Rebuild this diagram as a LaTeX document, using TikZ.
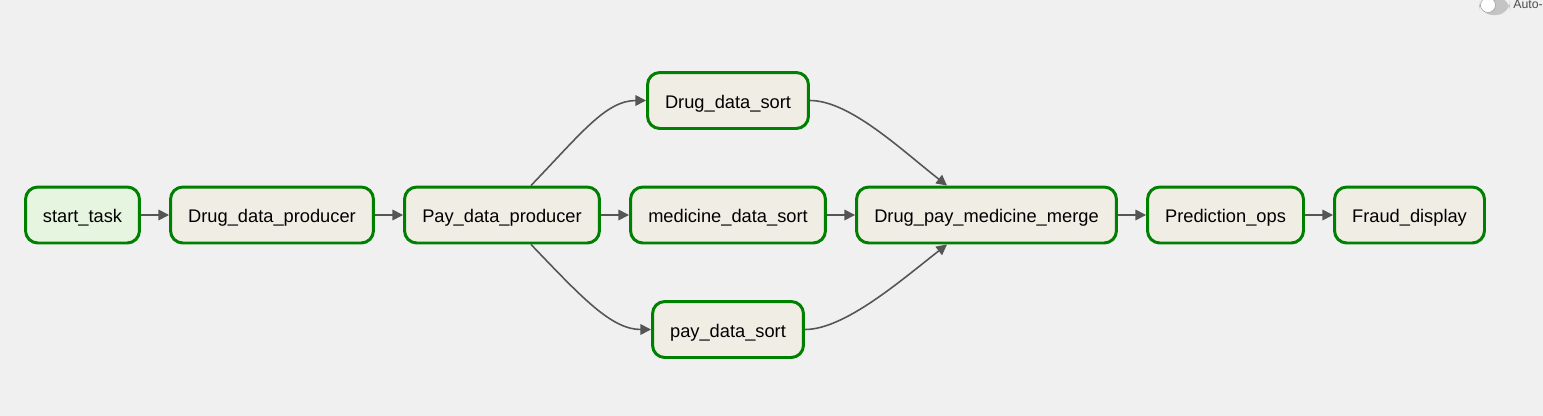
\documentclass[tikz,border=0pt]{standalone}
\usepackage{fontspec}
\setmainfont{Liberation Sans}
\usetikzlibrary{arrows.meta}
\definecolor{bggray}{HTML}{F0F0F0}
\definecolor{taskfill}{HTML}{F0EDE4}
\definecolor{startfill}{HTML}{E6F5E0}
\definecolor{okgreen}{HTML}{008000}
\definecolor{edgegray}{HTML}{555555}
\definecolor{toggray}{HTML}{C4C4C4}
\tikzset{
  task/.style={draw=okgreen, line width=1.7pt, fill=taskfill, rounded corners=7pt,
    minimum height=1.12cm, inner sep=0pt, text height=9pt, text depth=0pt,
    font=\fontsize{10.4}{12}\selectfont},
  flow/.style={draw=edgegray, line width=0.9pt, -{Triangle[length=6pt,width=6pt]}}
}

\begin{document}
\begin{tikzpicture}[x=0.02cm, y=-0.02cm]
  \fill[bggray] (0,0) rectangle (1543,416);
  \useasboundingbox (0,0) rectangle (1543,416);

  % toggle in the corner
  \fill[toggray, rounded corners=8pt] (1479,-3) rectangle (1510,15);
  \filldraw[fill=white, draw=toggray!80!black, line width=0.3pt] (1488,5) circle (7.5);
  \node[anchor=west, inner sep=0pt, text=gray!60!black, font=\fontsize{7}{8}\selectfont] (auto) at (1513,4) {Auto-};

  % tasks
  \node[task, fill=startfill, minimum width=2.28cm] (start) at (82.5,215) {start\_task};
  \node[task, minimum width=4.06cm] (drugprod) at (272,215) {Drug\_data\_producer};
  \node[task, minimum width=3.9cm] (payprod) at (502,215) {Pay\_data\_producer};
  \node[task, minimum width=3.9cm] (medsort) at (728,215) {medicine\_data\_sort};
  \node[task, minimum width=3.22cm] (drugsort) at (728,100.5) {Drug\_data\_sort};
  \node[task, minimum width=3.02cm] (paysort) at (728,329.5) {pay\_data\_sort};
  \node[task, minimum width=5.2cm] (merge) at (986.5,215) {Drug\_pay\_medicine\_merge};
  \node[task, minimum width=3.12cm] (predict) at (1225.5,215) {Prediction\_ops};
  \node[task, minimum width=3cm] (fraud) at (1409.5,215) {Fraud\_display};

  % straight edges
  \draw[flow] (start) -- (drugprod);
  \draw[flow] (drugprod) -- (payprod);
  \draw[flow] (payprod) -- (medsort);
  \draw[flow] (medsort) -- (merge);
  \draw[flow] (merge) -- (predict);
  \draw[flow] (predict) -- (fraud);

  % branches
  \draw[flow] ([xshift=0.58cm]payprod.north) .. controls +(50,-52) and +(-40,0) .. (drugsort.west);
  \draw[flow] (drugsort.east) .. controls +(40,0) and +(-45,-35) .. ([xshift=-0.79cm]merge.north);
  \draw[flow] ([xshift=0.58cm]payprod.south) .. controls +(50,52) and +(-40,0) .. (paysort.west);
  \draw[flow] (paysort.east) .. controls +(40,0) and +(-45,35) .. ([xshift=-0.79cm]merge.south);
\end{tikzpicture}
\end{document}
